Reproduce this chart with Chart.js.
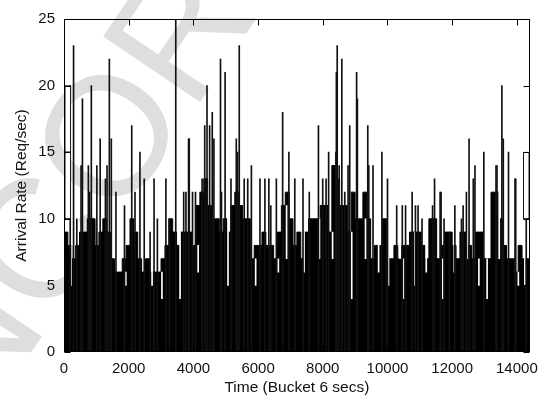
<!DOCTYPE html>
<html>
<head>
<meta charset="utf-8">
<script src="https://cdn.jsdelivr.net/npm/chart.js@4.4.1/dist/chart.umd.min.js"></script>
<style>
    html, body { margin: 0; padding: 0; background: #fff; }
    #wrap { position: relative; width: 546px; height: 401px; overflow: hidden; }
    #mark {
        position: absolute; left: -207px; top: 448px;
        font: 170px/1 "Liberation Sans", Arial, sans-serif;
        color: #dedede; white-space: nowrap;
        transform-origin: 0 0; transform: rotate(-56deg);
    }
    canvas { position: absolute; left: 0; top: 0; }
</style>
</head>
<body>
<div id="wrap">
    <div id="mark">UNCORRECTED PROOF</div>
    <canvas id="arrivalChart" width="546" height="401"></canvas>
</div>
<script>
// Arrival rate per 6 s bucket
// base level per group of 120 buckets
const baseBucket = 120;
const baseLevel = [
    9, 9, 8, 7, 8, 9, 9, 10, 10, 8, 9, 10, 9, 7, 6, 6, 7, 8, 10, 9,
    7, 6, 7, 6, 6, 6, 7, 8, 10, 9, 8, 9, 9, 9, 8, 11, 12, 13, 11, 10,
    10, 9, 10, 9, 11, 12, 11, 10, 10, 7, 8, 8, 9, 8, 8, 7, 9, 11, 12, 10,
    8, 9, 7, 9, 10, 10, 10, 11, 11, 9, 14, 13, 11, 11, 9, 12, 10, 10, 12, 10,
    7, 8, 8, 10, 7, 7, 8, 7, 8, 8, 9, 9, 9, 8, 7, 10, 10, 7, 8, 9,
    9, 8, 7, 9, 9, 8, 7, 9, 9, 7, 7, 12, 12, 10, 8, 7, 7, 6, 8, 7
];

// single buckets that stick out above the base
const spikeTime = [
    192, 296, 396, 527, 570, 753, 793, 845, 1016, 1118, 1281, 1331, 1402, 1463,
    1606, 1870, 2094, 2195, 2348, 2480, 2662, 2784, 2887, 3150, 3262, 3455,
    3700, 3770, 3851, 3872, 3973, 4065, 4269, 4350, 4421, 4502, 4583, 4634,
    4838, 4869, 4980, 5162, 5326, 5366, 5418, 5571, 5680, 5793, 6058, 6211,
    6333, 6393, 6565, 6759, 6952, 7135, 7389, 7583, 7866, 7998, 8102, 8181,
    8406, 8420, 8446, 8507, 8589, 8680, 8781, 8833, 9046, 9070, 9391, 9422,
    9553, 9828, 9970, 10001, 10285, 10458, 10560, 10763, 10865, 10946, 11068,
    11394, 11455, 11627, 11657, 11749, 11912, 12083, 12288, 12339, 12440,
    12522, 12653, 12705, 12979, 13355, 13385, 13537, 13580, 13742, 13943,
    13965, 14290
];
const spikeRate = [
    20, 23, 10, 14, 19, 14, 12, 20, 14, 16, 13, 14, 22, 16,
    12, 11, 17, 12, 15, 13, 9, 13, 10, 13, 10, 25,
    12, 12, 16, 16, 12, 12, 13, 17, 20, 17, 18, 16,
    22, 12, 21, 13, 16, 15, 23, 13, 13, 14, 13, 13,
    13, 11, 13, 18, 15, 13, 13, 12, 17, 13, 13, 15,
    15, 21, 23, 14, 22, 12, 14, 17, 21, 19, 17, 14,
    14, 15, 10, 13, 11, 11, 11, 12, 11, 11, 10,
    11, 13, 12, 12, 10, 9, 11, 10, 11, 12,
    16, 13, 14, 15, 14, 14, 20, 16, 15, 13,
    13, 11
];

// single buckets that drop below the base
const dipTime = [
    213, 1911, 2723, 3028, 3588, 4147, 5071, 5925, 6626, 6881, 7420, 7897,
    8303, 8894, 9321, 9726, 10031, 10388, 10489, 10845, 11199, 11708,
    12065, 12470, 12826, 13080, 13455, 14046, 14248
];
const dipRate = [
    5, 5, 5, 4, 4, 6, 5, 5, 6, 7, 6, 7,
    7, 4, 7, 6, 5, 7, 4, 5, 6, 4,
    6, 7, 5, 4, 7, 5, 5
];

// unfilled steps at both ends
const boxTime = [117, 117, 14290];
const boxLow = [10, 15, 10];
const boxHigh = [15, 20, 15];

const xTicks = [0, 2000, 4000, 6000, 8000, 10000, 12000, 14000];
const yTicks = [0, 5, 10, 15, 20, 25];

const fontFamily = '"Liberation Sans", Arial, Helvetica, sans-serif';

const basePoints = baseLevel.map((v, i) => ({ x: i * baseBucket, y: v }));
basePoints.push({ x: baseLevel.length * baseBucket, y: baseLevel[baseLevel.length - 1] });

const spikePoints = spikeTime.map((t, i) => ({ x: t, y: spikeRate[i] }));
const dipPoints = dipTime.map((t, i) => {
    const top = baseLevel[Math.min(baseLevel.length - 1, Math.floor(t / baseBucket))];
    return { x: t, y: [dipRate[i], Math.max(dipRate[i], top)] };
});
const boxPoints = boxTime.map((t, i) => ({ x: t, y: [boxLow[i], boxHigh[i]] }));

// gnuplot style frame with inward ticks on all sides
const frameTicks = {
    id: 'frameTicks',
    afterDatasetsDraw(chart) {
        const { ctx, chartArea: a, scales: { x, y } } = chart;
        const L = Math.round(a.left) + 0.5, R = Math.round(a.right) - 0.5;
        const T = Math.round(a.top) + 0.5, B = Math.round(a.bottom) - 0.5;
        ctx.save();
        ctx.strokeStyle = '#000';
        ctx.lineWidth = 1;
        ctx.beginPath();
        xTicks.forEach(v => {
            const px = Math.round(x.getPixelForValue(v)) + 0.5;
            ctx.moveTo(px, T); ctx.lineTo(px, T + 6);
            ctx.moveTo(px, B); ctx.lineTo(px, B - 6);
        });
        yTicks.forEach(v => {
            const py = Math.round(y.getPixelForValue(v)) + 0.5;
            ctx.moveTo(L, py); ctx.lineTo(L + 6, py);
            ctx.moveTo(R, py); ctx.lineTo(R - 6, py);
        });
        ctx.rect(L, T, R - L, B - T);
        ctx.stroke();
        ctx.restore();
    }
};

new Chart(document.getElementById('arrivalChart'), {
    data: {
        datasets: [
            {
                type: 'line',
                label: 'base',
                data: basePoints,
                stepped: 'after',
                fill: 'origin',
                backgroundColor: '#000',
                borderColor: '#000',
                borderWidth: 1,
                pointRadius: 0,
                order: 4
            },
            {
                type: 'bar',
                label: 'dips',
                data: dipPoints,
                backgroundColor: '#fff',
                barThickness: 1,
                grouped: false,
                order: 3
            },
            {
                type: 'bar',
                label: 'spikes',
                data: spikePoints,
                backgroundColor: '#111',
                barThickness: 1,
                grouped: false,
                order: 2
            },
            {
                type: 'bar',
                label: 'steps',
                data: boxPoints,
                backgroundColor: '#fff',
                borderColor: '#000',
                borderWidth: 1,
                borderSkipped: false,
                barThickness: 6,
                grouped: false,
                order: 1
            }
        ]
    },
    options: {
        responsive: false,
        animation: false,
        events: [],
        layout: { padding: { top: 19, right: 10, left: 0, bottom: 0 } },
        plugins: {
            legend: { display: false },
            tooltip: { enabled: false }
        },
        scales: {
            x: {
                type: 'linear',
                min: 0,
                max: 14400,
                offset: false,
                grid: { display: false, drawTicks: false },
                border: { display: false },
                afterBuildTicks: scale => { scale.ticks = xTicks.map(v => ({ value: v })); },
                afterFit: scale => { scale.height = 49; },
                ticks: {
                    padding: 8,
                    maxRotation: 0,
                    color: '#111',
                    callback: v => String(v),
                    font: { family: fontFamily, size: 15 }
                },
                title: {
                    display: true,
                    text: 'Time (Bucket 6 secs)',
                    color: '#111',
                    padding: { top: 0, bottom: 4 },
                    font: { family: fontFamily, size: 15.5 }
                }
            },
            y: {
                min: 0,
                max: 25,
                grid: { display: false, drawTicks: false },
                border: { display: false },
                afterBuildTicks: scale => { scale.ticks = yTicks.map(v => ({ value: v })); },
                afterFit: scale => { scale.width = 64; },
                ticks: {
                    padding: 9,
                    color: '#111',
                    callback: v => String(v),
                    font: { family: fontFamily, size: 15 }
                },
                title: {
                    display: true,
                    text: 'Arrival Rate (Req/sec)',
                    color: '#111',
                    padding: { top: 12.7, bottom: 0 },
                    font: { family: fontFamily, size: 15.5 }
                }
            }
        }
    },
    plugins: [frameTicks]
});
</script>
</body>
</html>
